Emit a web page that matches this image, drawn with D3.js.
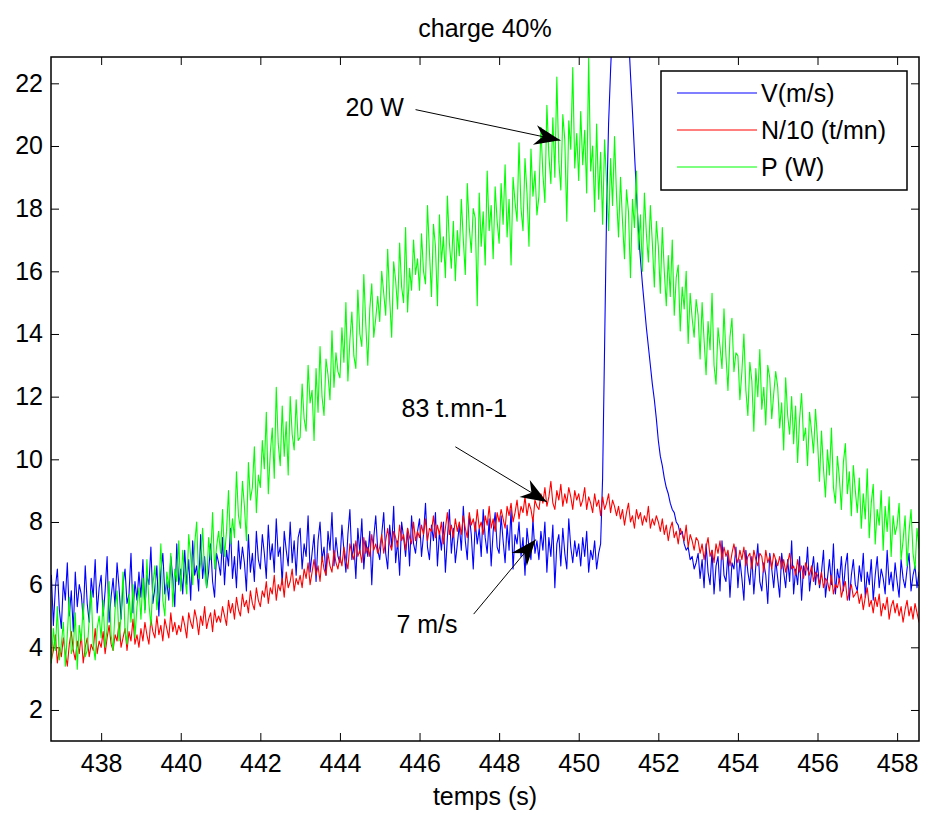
<!DOCTYPE html>
<html>
<head>
<meta charset="utf-8">
<script src="https://cdn.jsdelivr.net/npm/d3@7"></script>
<style>
body { margin: 0; background: #fff; }
text { font-family: "Liberation Sans", Arial, sans-serif; fill: #000; }
</style>
</head>
<body>
<svg id="chart" width="929" height="821"></svg>
<script>
// sampling of the record (s): first sample and step
var t0 = 436.7, dt = 0.05;

// V (m/s), blue -- one row per second
var V = [
    5.0, 6.3, 4.7, 5.9, 6.5, 5.2,
    4.6, 6.1, 5.5, 6.7, 5.0, 5.8, 4.5, 6.4, 5.3, 6.0, 5.7, 4.9, 6.6, 5.4, 4.8, 6.2, 5.6, 6.8, 5.1, 5.9,
    6.3, 5.0, 5.8, 6.9, 4.8, 5.6, 6.2, 5.3, 6.7, 5.9, 4.9, 6.0, 6.5, 5.4, 5.7, 7.0, 5.1, 6.1, 5.5, 6.4,
    5.6, 6.8, 5.2, 6.3, 6.0, 7.2, 5.4, 5.9, 6.6, 5.0, 6.4, 7.0, 5.7, 6.1, 5.5, 6.9, 6.2, 5.3, 7.3, 6.0,
    6.5, 5.7, 7.1, 6.0, 6.8, 5.5, 7.4, 6.3, 6.6, 5.8, 7.6, 6.2, 6.9, 5.9, 6.4, 7.3, 6.1, 5.6, 7.0, 6.7,
    6.3, 7.5, 6.0, 7.1, 6.6, 7.8, 6.2, 6.9, 5.9, 7.4, 6.5, 7.2, 6.7, 5.8, 7.6, 6.4, 7.0, 6.1, 7.7, 6.8,
    6.5, 7.6, 7.0, 6.2, 7.9, 6.8, 7.3, 6.4, 8.1, 6.9, 7.2, 6.0, 7.7, 7.1, 6.6, 8.0, 6.7, 7.4, 6.3, 7.5,
    7.8, 6.5, 7.3, 6.9, 8.2, 6.4, 7.0, 7.6, 6.1, 7.4, 8.0, 6.8, 7.2, 6.3, 7.7, 7.1, 8.3, 6.6, 7.5, 6.9,
    6.7, 7.9, 7.1, 6.4, 7.6, 8.4, 6.8, 7.3, 6.2, 7.8, 7.0, 8.1, 6.5, 7.4, 6.9, 7.7, 6.0, 7.5, 8.2, 7.1,
    6.8, 7.6, 8.3, 7.0, 6.5, 7.9, 7.2, 8.5, 6.7, 7.4, 6.3, 8.0, 7.5, 6.9, 7.8, 6.6, 8.2, 7.3, 7.0, 7.7,
    8.1, 6.9, 7.6, 8.6, 7.2, 6.8, 7.9, 7.4, 8.3, 6.6, 7.7, 7.1, 8.0, 6.4, 7.5, 8.4, 7.0, 7.8, 6.7, 7.3,
    7.9, 7.1, 8.5, 7.4, 6.8, 8.2, 7.6, 6.5, 8.0, 7.3, 7.8, 6.9, 8.4, 7.5, 7.0, 8.1, 6.6, 7.7, 8.3, 7.2,
    7.0, 8.2, 7.4, 6.7, 7.9, 7.1, 8.4, 6.5, 7.6, 7.3, 8.0, 6.9, 7.5, 6.3, 7.8, 7.2, 6.8, 8.1, 7.0, 7.4,
    6.8, 7.7, 7.1, 8.0, 6.4, 7.5, 6.9, 7.9, 5.9, 7.3, 7.6, 6.6, 7.8, 7.0, 6.5, 8.1, 7.2, 6.7, 7.4, 6.9,
    7.3, 6.6, 7.5, 6.9, 7.7, 6.4, 7.1, 6.8, 7.4, 6.5, 7.0, 7.3, 9.4, 13.6, 17.9, 20.7, 22.4, 23.9, 25.4, 26.6,
    27.4, 27.6, 27.1, 26.2, 25.0, 23.6, 22.3, 21.1, 19.8, 18.5, 17.3, 16.4, 15.6, 14.9, 14.2, 13.6, 13.0, 12.4, 11.9, 11.3,
    10.6, 10.1, 9.8, 9.4, 9.1, 8.9, 8.6, 8.4, 8.3, 8.0, 7.9, 7.6, 7.7, 7.3, 7.1, 7.2, 6.8, 6.9, 6.5, 6.7,
    7.0, 6.2, 6.8, 5.9, 7.3, 6.4, 6.0, 7.1, 5.7, 6.6, 6.9, 5.8, 7.4, 6.3, 6.1, 7.0, 5.6, 6.7, 6.5, 7.2,
    5.9, 6.8, 6.2, 5.5, 7.1, 6.4, 6.0, 6.9, 5.7, 6.6, 7.3, 6.1, 5.8, 6.7, 6.3, 5.4, 7.0, 6.5, 5.9, 6.8,
    6.2, 5.6, 7.0, 6.4, 5.9, 6.8, 6.1, 7.4, 5.7, 6.5, 6.0, 6.9, 5.5, 6.6, 6.3, 7.2, 5.8, 6.4, 6.9, 6.0,
    6.7, 5.9, 6.4, 7.1, 5.6, 6.2, 6.8, 6.0, 7.3, 5.7, 6.5, 6.1, 6.9, 5.8, 6.6, 7.0, 5.5, 6.3, 6.8, 6.0,
    5.8, 6.6, 6.1, 7.0, 5.6, 6.4, 6.0, 6.8, 5.5, 6.3, 6.9, 5.9, 6.5, 6.2, 5.7, 7.1, 6.0, 6.4, 5.8, 6.7,
    6.1, 5.6, 6.8, 6.2, 5.9, 6.5, 7.0, 5.8, 6.3, 6.6, 5.9, 6.4, 6.2
];

// N/10 (t/mn), red
var N = [
    4.2, 3.6, 3.9, 4.4, 3.5, 4.0,
    3.7, 4.3, 3.8, 3.4, 4.1, 4.5, 3.9, 3.6, 4.2, 3.8, 4.4, 3.5, 4.0, 4.3, 3.7, 4.1, 3.9, 4.6, 3.8, 4.2,
    4.0, 4.5, 3.8, 4.3, 4.7, 4.1, 3.9, 4.4, 4.2, 4.8, 4.0, 4.3, 4.6, 3.9, 4.5, 4.2, 4.9, 4.1, 4.4, 4.0,
    4.6, 4.2, 4.8, 4.4, 4.1, 4.9, 4.5, 4.3, 5.0, 4.4, 4.7, 4.2, 4.9, 4.6, 4.3, 5.1, 4.5, 4.8, 4.4, 4.7,
    4.5, 5.0, 4.7, 4.3, 5.1, 4.8, 4.6, 5.2, 4.9, 4.4, 5.0, 4.7, 5.3, 4.6, 4.9, 5.1, 4.5, 5.2, 4.8, 5.0,
    4.8, 5.3, 5.0, 4.7, 5.5, 5.1, 5.4, 4.9, 5.6, 5.2, 5.0, 5.7, 5.3, 5.5, 5.1, 5.8, 5.4, 5.2, 5.9, 5.5,
    5.3, 5.8, 5.6, 6.1, 5.4, 5.9, 5.7, 6.3, 5.5, 6.0, 5.8, 6.2, 5.6, 6.4, 5.9, 6.1, 6.5, 5.8, 6.2, 6.0,
    6.3, 5.9, 6.5, 6.2, 6.7, 6.0, 6.4, 6.8, 6.3, 6.6, 6.1, 6.9, 6.5, 6.3, 7.0, 6.6, 6.4, 7.1, 6.7, 6.5,
    6.9, 6.6, 7.2, 6.8, 6.5, 7.3, 7.0, 6.8, 7.4, 6.9, 7.1, 6.7, 7.5, 7.0, 7.2, 6.9, 7.6, 7.1, 7.3, 7.0,
    7.2, 7.6, 7.0, 7.4, 7.8, 7.3, 7.1, 7.7, 7.5, 7.2, 7.9, 7.4, 7.6, 7.1, 7.8, 7.5, 7.3, 8.0, 7.4, 7.7,
    7.5, 7.9, 7.6, 8.1, 7.4, 7.8, 7.7, 8.2, 7.5, 7.9, 7.6, 8.0, 7.3, 7.8, 8.3, 7.6, 7.9, 7.5, 8.1, 7.7,
    8.0, 7.6, 8.2, 7.8, 7.5, 8.3, 7.9, 8.1, 7.7, 8.4, 7.8, 8.0, 7.6, 8.2, 7.9, 8.5, 7.8, 8.1, 7.7, 8.3,
    8.0, 8.4, 8.1, 7.8, 8.5, 8.2, 8.6, 8.0, 8.3, 8.7, 8.1, 8.5, 8.3, 8.8, 8.2, 8.6, 8.4, 8.0, 8.7, 8.5,
    8.4, 8.9, 8.6, 9.1, 8.5, 8.8, 9.3, 8.6, 8.4, 9.0, 8.7, 9.2, 8.5, 8.9, 8.6, 9.1, 8.8, 8.4, 9.0, 8.7,
    8.9, 8.5, 8.7, 9.1, 8.4, 8.8, 8.6, 8.3, 8.9, 8.5, 8.7, 8.2, 8.8, 8.4, 8.6, 8.9, 8.3, 8.7, 8.5, 8.2,
    8.5, 8.1, 8.4, 7.9, 8.3, 8.6, 8.0, 8.2, 7.8, 8.4, 8.1, 8.3, 7.9, 8.2, 8.0, 8.5, 7.8, 8.1, 7.9, 8.2,
    8.0, 7.7, 8.1, 7.6, 7.9, 7.4, 7.8, 8.0, 7.5, 7.7, 7.3, 7.8, 7.6, 7.4, 7.9, 7.2, 7.6, 7.4, 7.1, 7.5,
    7.4, 7.0, 7.3, 6.8, 7.2, 7.5, 6.9, 7.1, 6.7, 7.3, 7.0, 7.4, 6.8, 7.2, 6.9, 7.1, 6.6, 7.0, 7.3, 6.9,
    6.7, 7.1, 6.8, 7.2, 6.6, 6.9, 7.0, 6.5, 7.1, 6.8, 6.6, 7.0, 6.9, 6.4, 7.1, 6.7, 6.9, 6.5, 7.0, 6.8,
    6.6, 6.9, 6.5, 6.8, 6.4, 6.7, 7.0, 6.5, 6.6, 6.3, 6.8, 6.4, 6.6, 6.2, 6.7, 6.5, 6.3, 6.6, 6.1, 6.4,
    6.3, 6.0, 6.4, 5.9, 6.2, 6.1, 5.8, 6.3, 5.7, 6.0, 5.9, 6.2, 5.6, 5.9, 6.1, 5.5, 5.8, 6.0, 5.6, 5.7,
    5.8, 5.4, 5.7, 5.2, 5.6, 5.9, 5.3, 5.5, 5.1, 5.6, 5.3, 5.7, 5.0, 5.4, 5.2, 5.6, 4.9, 5.3, 5.5, 5.1,
    5.4, 5.0, 5.3, 4.8, 5.2, 5.5, 5.0, 5.3, 4.9, 5.4, 5.1, 4.8, 5.2
];

// P (W), green
var P = [
    4.9, 3.5, 4.6, 3.9, 5.3, 3.6,
    4.1, 4.8, 3.4, 4.4, 5.6, 3.8, 4.0, 5.1, 3.3, 4.7, 4.2, 5.4, 3.7, 3.9, 4.9, 5.8, 4.1, 3.6, 4.6, 5.0,
    4.3, 5.5, 4.0, 4.6, 6.1, 4.4, 3.9, 5.2, 5.8, 4.2, 5.0, 6.4, 4.5, 4.1, 5.7, 4.8, 6.0, 4.3, 5.3, 5.9,
    4.9, 6.2, 5.1, 6.8, 5.4, 4.7, 6.0, 6.6, 5.2, 5.8, 7.3, 5.5, 5.0, 6.4, 5.9, 7.0, 5.3, 6.5, 6.1, 7.4,
    5.8, 7.1, 6.3, 5.7, 7.6, 6.9, 6.0, 7.3, 8.0, 6.2, 6.7, 7.8, 6.4, 5.9, 7.5, 6.8, 8.3, 6.5, 7.2, 7.7,
    7.0, 8.4, 6.9, 7.7, 9.0, 7.3, 8.1, 7.5, 9.6, 8.2, 7.8, 9.3, 8.5, 7.4, 9.9, 8.7, 9.1, 10.4, 8.3, 9.5,
    9.1, 10.6, 9.7, 11.5, 8.9, 10.2, 11.0, 9.4, 12.3, 10.5, 9.8, 11.7, 10.1, 11.2, 9.5, 12.0, 10.8, 10.3, 11.9, 10.6,
    10.7, 12.4, 11.3, 10.9, 13.0, 11.8, 12.2, 10.6, 12.9, 11.5, 13.6, 12.0, 11.4, 13.2, 12.7, 11.9, 14.1, 12.3, 13.4, 12.8,
    12.6, 14.2, 13.1, 15.0, 12.5, 13.8, 14.7, 13.3, 12.9, 15.4, 14.0, 13.6, 15.9, 14.3, 13.0, 14.8, 15.6, 13.9, 14.5, 15.2,
    14.4, 16.0, 15.3, 14.6, 16.7, 15.1, 13.9, 16.3, 15.7, 14.8, 16.9, 15.5, 15.0, 17.4, 14.7, 16.1, 15.4, 17.0, 15.9, 16.4,
    15.4, 17.2, 16.0, 15.6, 18.1, 16.6, 15.2, 17.5, 16.8, 14.9, 17.8, 16.3, 17.1, 15.8, 18.4, 16.9, 16.1, 17.6, 15.7, 17.3,
    16.5, 18.3, 17.0, 15.9, 18.8, 17.4, 16.6, 18.0, 17.7, 14.9, 18.5, 16.8, 17.9, 16.2, 19.2, 17.3, 18.1, 16.4, 18.7, 17.6,
    16.9, 18.8, 17.5, 19.4, 17.1, 18.3, 16.2, 19.0, 18.2, 17.6, 20.1, 18.0, 17.3, 19.6, 18.5, 16.8, 19.9, 18.4, 19.2, 17.8,
    18.4, 20.6, 19.1, 18.2, 21.3, 19.7, 18.8, 20.9, 19.0, 22.2, 19.5, 18.6, 21.0, 20.2, 17.6, 20.8, 19.9, 22.5, 19.3, 20.4,
    18.9, 21.1, 19.4, 20.5, 18.5, 22.8, 19.2, 20.0, 17.9, 20.7, 18.3, 19.8, 17.5, 20.2, 18.8, 17.3, 19.6, 18.1, 20.3, 18.4,
    17.1, 19.0, 17.6, 16.4, 18.6, 17.9, 15.8, 18.3, 17.4, 19.2, 16.7, 17.8, 16.0, 18.5, 17.2, 16.3, 18.1, 16.9, 15.5, 17.6,
    16.8, 15.3, 17.4, 16.0, 14.9, 16.5, 15.2, 17.0, 14.6, 15.8, 16.2, 14.1, 15.5, 14.8, 16.0, 13.7, 15.3, 14.5, 13.9, 15.1,
    14.6, 13.2, 15.0, 13.8, 12.7, 14.4, 13.5, 15.3, 13.0, 12.4, 14.2, 13.6, 12.9, 14.8, 13.3, 12.2, 13.9, 14.5, 12.8, 13.4,
    13.3, 11.9, 12.8, 14.0, 12.2, 11.4, 13.1, 12.5, 10.9, 12.9, 12.0, 13.5, 11.6, 12.3, 11.1, 13.0, 12.6, 11.3, 12.1, 12.8,
    12.3, 11.0, 11.8, 10.3, 12.6, 11.4, 10.8, 12.0, 10.5, 11.7, 9.9, 11.3, 12.1, 10.6, 11.0, 9.8, 11.5, 10.9, 10.2, 11.6,
    10.6, 9.3, 10.9, 9.7, 8.8, 10.3, 9.5, 11.0, 9.1, 8.6, 10.1, 9.4, 8.4, 9.9, 10.5, 8.9, 9.6, 8.2, 9.8, 9.0,
    8.3, 9.4, 7.8, 8.9, 8.1, 9.7, 7.5, 8.6, 9.2, 7.3, 8.4, 7.9, 9.0, 7.1, 8.5, 7.7, 8.8, 6.9, 8.2, 7.6,
    7.9, 8.6, 6.8, 7.4, 8.2, 6.6, 7.7, 8.4, 7.0, 6.5, 7.8, 7.2, 6.9
];

var xTicks = [438, 440, 442, 444, 446, 448, 450, 452, 454, 456, 458];
var yTicks = [2, 4, 6, 8, 10, 12, 14, 16, 18, 20, 22];
var seriesNames = ["V(m/s)", "N/10 (t/mn)", "P (W)"];
var seriesColors = ["#0000ff", "#ff0000", "#00ff00"];

// text annotations with arrows, in data units
var notes = [
    {label: "20 W", tx: 444.14, ty: 20.95, x1: 445.90, y1: 21.16, x2: 449.54, y2: 20.18},
    {label: "83 t.mn-1", tx: 445.55, ty: 11.36, x1: 446.90, y1: 10.40, x2: 449.20, y2: 8.64},
    {label: "7 m/s", tx: 445.42, ty: 4.46, x1: 447.36, y1: 5.06, x2: 448.92, y2: 7.44}
];

var svg = d3.select('#chart');
var axL = 51, axR = 919, axT = 57, axB = 741;
var fontSize = 25;

var x = d3.scaleLinear().domain([436.74, 458.55]).range([axL, axR]);
var y = d3.scaleLinear().domain([1.01, 22.84]).range([axB, axT]);

svg.append("clipPath")
    .attr("id", "clip")
    .append("rect")
    .attr("x", axL)
    .attr("y", axT)
    .attr("width", axR - axL)
    .attr("height", axB - axT);

// axes, ticks pointing inward on all four sides
function styleAxis(g) {
    g.select(".domain").remove();
    g.selectAll(".tick line").attr("stroke", "#000");
    g.selectAll(".tick text")
        .attr("font-size", fontSize)
        .attr("font-family", "Liberation Sans, Arial, sans-serif")
        .attr("fill", "#000");
}

svg.append("g")
    .attr("transform", "translate(0," + axB + ")")
    .call(d3.axisBottom(x).tickValues(xTicks).tickSizeInner(-8).tickSizeOuter(0).tickPadding(13))
    .call(styleAxis);

svg.append("g")
    .attr("transform", "translate(0," + axT + ")")
    .call(d3.axisTop(x).tickValues(xTicks).tickSizeInner(-8).tickSizeOuter(0).tickFormat(""))
    .call(styleAxis);

svg.append("g")
    .attr("transform", "translate(" + axL + ",0)")
    .call(d3.axisLeft(y).tickValues(yTicks).tickSizeInner(-8).tickSizeOuter(0).tickPadding(8))
    .call(styleAxis);

svg.append("g")
    .attr("transform", "translate(" + axR + ",0)")
    .call(d3.axisRight(y).tickValues(yTicks).tickSizeInner(-8).tickSizeOuter(0).tickFormat(""))
    .call(styleAxis);

// the three records, sample i is at t0 + i*dt
var line = d3.line()
    .x(function(d, i) { return x(t0 + i * dt); })
    .y(function(d) { return y(d); });

var plot = svg.append("g").attr("clip-path", "url(#clip)");

[V, N, P].forEach(function(s, k) {
    plot.append("path")
        .datum(s)
        .attr("d", line)
        .attr("fill", "none")
        .attr("stroke", seriesColors[k])
        .attr("stroke-width", 1.1)
        .attr("stroke-linejoin", "round");
});

svg.append("rect")
    .attr("x", axL)
    .attr("y", axT)
    .attr("width", axR - axL)
    .attr("height", axB - axT)
    .attr("fill", "none")
    .attr("stroke", "#000")
    .attr("stroke-width", 1.5);

// annotations
function arrowHead(x1, y1, x2, y2) {
    var dx = x2 - x1, dy = y2 - y1, len = Math.sqrt(dx * dx + dy * dy);
    var ux = dx / len, uy = dy / len, nx = -uy, ny = ux;
    var hl = 26, hw = 10, notch = 18;
    var p = [
        [x2, y2],
        [x2 - ux * hl + nx * hw, y2 - uy * hl + ny * hw],
        [x2 - ux * notch, y2 - uy * notch],
        [x2 - ux * hl - nx * hw, y2 - uy * hl - ny * hw]
    ];
    return "M" + p.join("L") + "Z";
}

var note = svg.append("g").selectAll("g")
    .data(notes)
    .enter()
    .append("g");

note.append("text")
    .attr("x", function(d) { return x(d.tx); })
    .attr("y", function(d) { return y(d.ty); })
    .attr("font-size", fontSize)
    .text(function(d) { return d.label; });

note.append("line")
    .attr("x1", function(d) { return x(d.x1); })
    .attr("y1", function(d) { return y(d.y1); })
    .attr("x2", function(d) { return x(d.x2); })
    .attr("y2", function(d) { return y(d.y2); })
    .attr("stroke", "#000")
    .attr("stroke-width", 1);

note.append("path")
    .attr("d", function(d) {
        return arrowHead(x(d.x1), y(d.y1), x(d.x2), y(d.y2));
    })
    .attr("fill", "#000");

// legend
var legend = svg.append("g");
legend.append("rect")
    .attr("x", 661)
    .attr("y", 71)
    .attr("width", 246)
    .attr("height", 119)
    .attr("fill", "#fff")
    .attr("stroke", "#000")
    .attr("stroke-width", 1.5);

var item = legend.selectAll("g")
    .data(seriesNames)
    .enter()
    .append("g")
    .attr("transform", function(d, i) {
        return "translate(0," + (93 + i * 37) + ")";
    });

item.append("line")
    .attr("x1", 677)
    .attr("x2", 757)
    .attr("stroke", function(d, i) { return seriesColors[i]; })
    .attr("stroke-width", 1.2);

item.append("text")
    .attr("x", 761)
    .attr("y", 9)
    .attr("font-size", fontSize)
    .text(function(d) { return d; });

// title and x label
svg.append("text")
    .attr("x", (axL + axR) / 2)
    .attr("y", 37)
    .attr("text-anchor", "middle")
    .attr("font-size", fontSize)
    .text("charge 40%");

svg.append("text")
    .attr("x", (axL + axR) / 2)
    .attr("y", 805)
    .attr("text-anchor", "middle")
    .attr("font-size", fontSize)
    .text("temps (s)");
</script>
</body>
</html>
